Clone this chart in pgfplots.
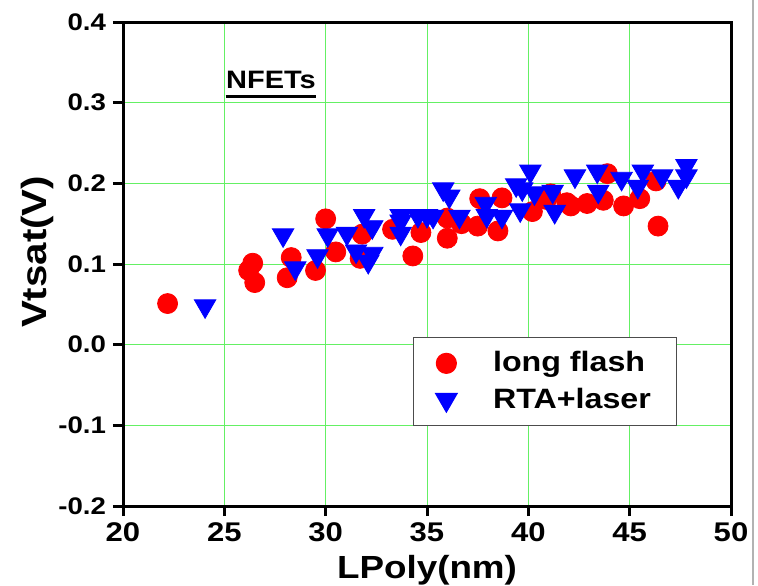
\documentclass[border=0pt]{standalone}
\usepackage{fontspec}
\setmainfont[FakeStretch=1.15]{Liberation Sans}
\usepackage{pgfplots}
\pgfplotsset{compat=1.18}
\definecolor{gridgreen}{RGB}{100,240,100}
\begin{document}
\begin{tikzpicture}
\useasboundingbox (-61.5pt,-39.5pt) rectangle (317.5pt,253pt);
\draw[gray!60, line width=0.6pt] (315pt,-39.5pt) -- (315pt,253pt);
\begin{axis}[
  at={(0pt,0pt)}, anchor=south west, scale only axis,
  width=304pt, height=242pt,
  xmin=20, xmax=50, ymin=-0.2, ymax=0.4,
  xtick={20,25,30,35,40,45,50},
  xticklabels={20,25,30,35,40,45,50},
  ytick={-0.2,-0.1,0,0.1,0.2,0.3,0.4},
  yticklabels={-0.2,-0.1,0.0,0.1,0.2,0.3,0.4},
  grid=major,
  major grid style={gridgreen, line width=0.5pt},
  axis line style={line width=1.5pt, black},
  tick style={line width=1.5pt, black},
  major tick length=5pt, tick align=outside,
  xtick pos=bottom, ytick pos=left,
  xticklabel style={font=\fontsize{13.5}{15}\selectfont\bfseries},
  yticklabel style={font=\fontsize{12}{14}\selectfont\bfseries},
  xlabel={LPoly(nm)},
  ylabel={Vtsat(V)},
  xlabel style={font=\fontsize{16}{18}\selectfont\bfseries, at={(axis description cs:0.5,-0.132)}, anchor=center},
  ylabel style={font=\fontsize{17.5}{20}\selectfont\bfseries, at={(axis description cs:-0.1414,0.525)}, anchor=center},
  legend style={at={(0.477,0.349)}, anchor=north west, draw=gray!60!black, line width=0.6pt,
    font=\fontsize{14}{16}\selectfont\bfseries, inner xsep=11pt, inner ysep=5pt,
    cells={anchor=west}, row sep=2.5pt,
    /tikz/every odd column/.append style={column sep=16pt}},
  legend cell align=left,
]
\addplot[only marks, mark=*, mark size=5pt, mark options={draw=none, fill=red}, color=red] table {
x y
22.2 0.051
26.4 0.101
26.2 0.092
26.5 0.077
28.3 0.108
28.1 0.083
29.5 0.092
30.0 0.156
30.5 0.115
31.8 0.137
31.7 0.107
33.3 0.143
34.7 0.139
34.3 0.110
36.0 0.157
36.0 0.132
36.7 0.150
37.6 0.181
38.7 0.182
37.5 0.147
38.5 0.141
40.2 0.165
41.1 0.187
41.9 0.176
40.9 0.180
42.1 0.172
42.9 0.175
43.7 0.179
43.9 0.212
44.7 0.172
45.5 0.181
46.3 0.203
46.4 0.147
};
\addlegendentry{long flash\hspace{5pt}}
\addplot[only marks, mark=triangle*, mark size=6.2pt, mark options={draw=none, fill=blue, rotate=180}, color=blue] table {
x y
24.05 0.048
27.9 0.136
28.5 0.095
29.6 0.110
30.1 0.136
31.05 0.138
31.5 0.116
31.9 0.160
32.3 0.146
32.3 0.113
32.1 0.103
33.7 0.160
33.7 0.153
33.7 0.138
34.55 0.160
35.0 0.160
35.3 0.159
35.8 0.193
36.1 0.184
36.6 0.159
37.9 0.175
37.95 0.160
38.7 0.159
39.4 0.198
39.6 0.167
39.7 0.193
40.1 0.215
40.3 0.188
41.2 0.190
41.3 0.165
42.3 0.209
43.4 0.215
43.45 0.190
44.6 0.206
45.4 0.196
45.65 0.215
46.6 0.209
47.4 0.196
47.8 0.222
47.8 0.209
};
\addlegendentry{RTA+laser}
\node[inner sep=0pt, anchor=base, font=\fontsize{12.6}{15}\selectfont\bfseries] (nf) at (axis cs:27.30,0.3173) {NFETs};
\draw[line width=1.5pt] ([yshift=-3.75pt]nf.base west) -- ([yshift=-3.75pt]nf.base east);
\end{axis}
\end{tikzpicture}
\end{document}
